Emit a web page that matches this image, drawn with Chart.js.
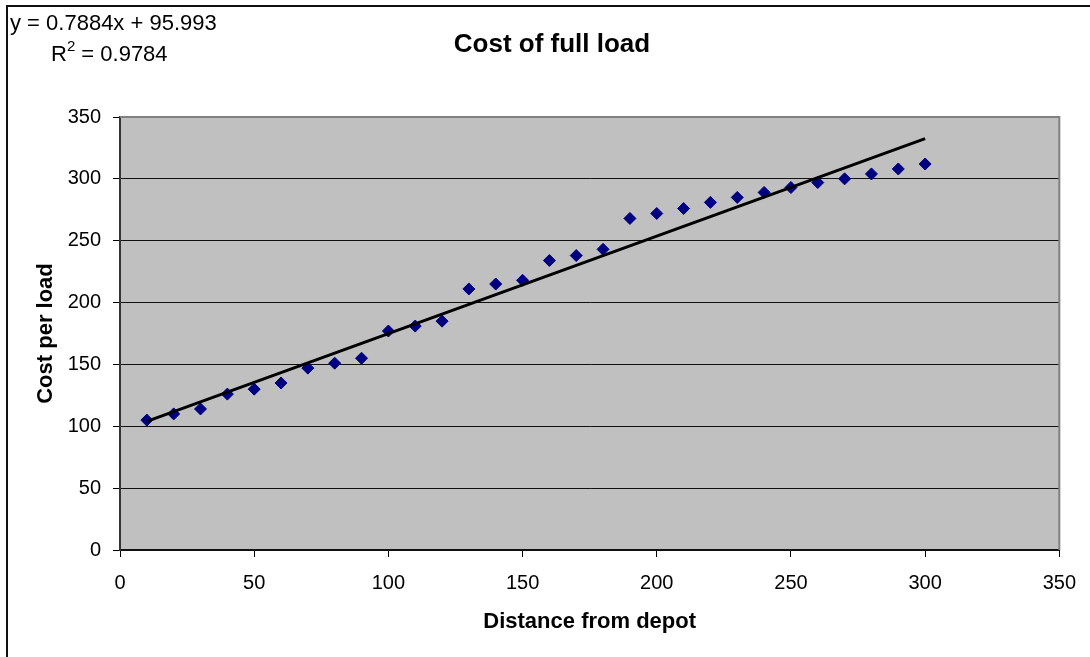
<!DOCTYPE html>
<html>
<head>
<meta charset="utf-8">
<script src="https://cdn.jsdelivr.net/npm/chart.js@4/dist/chart.umd.min.js"></script>
<style>
  body { margin: 0; background: #fff; }
  canvas { display: block; }
</style>
</head>
<body>
<canvas id="loadChart" width="1090" height="657"></canvas>
<script>
// distance from depot and cost per load
const distances = [10, 20, 30, 40, 50, 60, 70, 80, 90, 100, 110, 120, 130, 140, 150,
    160, 170, 180, 190, 200, 210, 220, 230, 240, 250, 260, 270, 280, 290, 300];
const costs = [105, 110, 114, 126, 130, 135, 147, 151, 155, 177, 181, 185, 211, 215, 218,
    234, 238, 243, 268, 272, 276, 281, 285, 289, 293, 297, 300, 304, 308, 312];

// trendline end points (y = 0.7884x + 95.993)
const trendX = [10, 300];
const trendY = [103.9, 332.5];

const titleText = "Cost of full load";
const equationText = "y = 0.7884x + 95.993";
const r2Value = "0.9784";
const xTitle = "Distance from depot";
const yTitle = "Cost per load";

const FONT = "'Liberation Sans', Arial, sans-serif";

const excelLook = {
    id: "excelLook",
    beforeDraw(chart) {
        const { ctx, chartArea: a } = chart;
        ctx.save();
        ctx.fillStyle = "#c0c0c0";
        ctx.fillRect(a.left, a.top, a.right - a.left, a.bottom - a.top);
        ctx.restore();
    },
    beforeDatasetsDraw(chart) {
        const { ctx, chartArea: a } = chart;
        ctx.save();
        ctx.strokeStyle = "#808080";
        ctx.lineWidth = 2;
        ctx.beginPath();
        ctx.moveTo(a.left, a.top);
        ctx.lineTo(a.right, a.top);
        ctx.lineTo(a.right, a.bottom);
        ctx.stroke();
        ctx.restore();
    },
    afterDraw(chart) {
        const ctx = chart.ctx;
        ctx.save();
        // outer frame (top and left only)
        ctx.fillStyle = "#111";
        ctx.fillRect(6, 5, 1084, 2);
        ctx.fillRect(6, 5, 2, 652);

        ctx.fillStyle = "#000";
        ctx.textBaseline = "middle";
        ctx.textAlign = "center";
        ctx.font = "bold 26px " + FONT;
        ctx.fillText(titleText, 552, 45);

        ctx.textAlign = "left";
        ctx.font = "22px " + FONT;
        ctx.fillText(equationText, 10, 24);
        let x = 51;
        ctx.fillText("R", x, 55);
        x += ctx.measureText("R").width;
        ctx.font = "15px " + FONT;
        ctx.fillText("2", x, 47);
        x += ctx.measureText("2").width;
        ctx.font = "22px " + FONT;
        ctx.fillText(" = " + r2Value, x, 55);
        ctx.restore();
    },
};

new Chart(document.getElementById("loadChart"), {
    type: "scatter",
    data: {
        datasets: [
            {
                type: "line",
                label: "Trend",
                data: trendX.map((v, i) => ({ x: v, y: trendY[i] })),
                borderColor: "#000",
                borderWidth: 3,
                pointRadius: 0,
                fill: false,
                order: 0,
            },
            {
                label: "Cost",
                data: distances.map((v, i) => ({ x: v, y: costs[i] })),
                pointStyle: "rectRot",
                pointRadius: 6,
                backgroundColor: "#000080",
                borderColor: "#000080",
                borderWidth: 1,
                order: 1,
            },
        ],
    },
    options: {
        responsive: false,
        animation: false,
        layout: { padding: { top: 117, right: 30, left: 0, bottom: 0 } },
        plugins: {
            legend: { display: false },
            tooltip: { enabled: false },
        },
        scales: {
            x: {
                type: "linear",
                min: 0,
                max: 350,
                afterFit(scale) { scale.height = 107; },
                ticks: { stepSize: 50, color: "#000", padding: 14, font: { family: FONT, size: 20 } },
                grid: { drawOnChartArea: false, drawTicks: true, tickLength: 7, tickColor: "#000" },
                border: { color: "#111", width: 2 },
                title: {
                    display: true,
                    text: xTitle,
                    color: "#000",
                    font: { family: FONT, size: 22, weight: "bold" },
                    padding: { top: 0, bottom: 22 },
                },
            },
            y: {
                min: 0,
                max: 350,
                afterFit(scale) { scale.width = 120; },
                ticks: { stepSize: 50, color: "#000", padding: 12, font: { family: FONT, size: 20 } },
                grid: {
                    color: (c) => (c.tick && c.tick.value === 350 ? "#808080" : "#111"),
                    lineWidth: 1,
                    tickLength: 7,
                    tickColor: "#000",
                },
                border: { color: "#333", width: 2 },
                title: {
                    display: true,
                    text: yTitle,
                    color: "#000",
                    font: { family: FONT, size: 22, weight: "bold" },
                    padding: { top: 33, bottom: 0 },
                },
            },
        },
    },
    plugins: [excelLook],
});
</script>
</body>
</html>
